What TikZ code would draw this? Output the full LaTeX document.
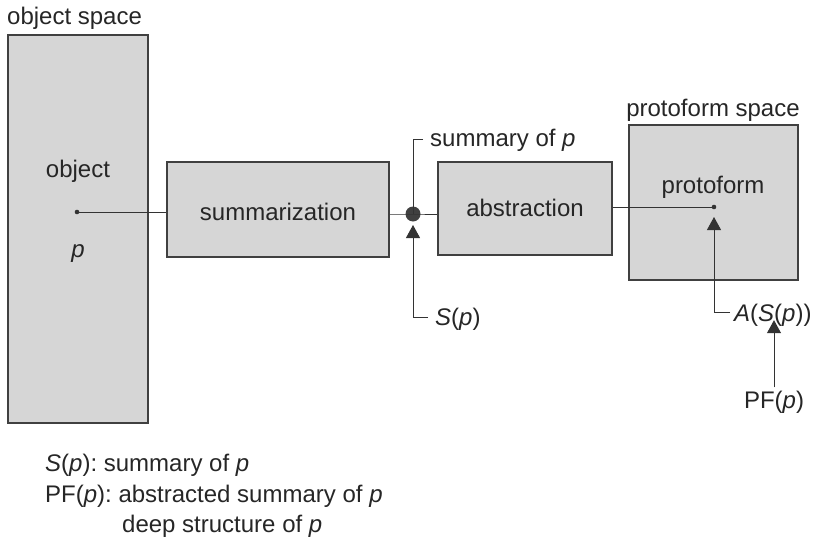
\documentclass[tikz,border=0pt]{standalone}
\usepackage{fontspec}
\setmainfont{Liberation Sans}
\usetikzlibrary{positioning, arrows.meta, calc}
\frenchspacing

\begin{document}
\begin{tikzpicture}[x=1pt, y=-1pt,
    font=\fontsize{24}{28}\selectfont,
    region/.style={draw=black!75, line width=1.2pt, fill=black!16, inner sep=0pt},
    link/.style={draw=black!80, line width=1pt},
    up/.style={link, -{Triangle[length=13pt, width=14pt]}},
    txt/.style={text=black!85, inner sep=0pt}]
    \useasboundingbox (0,0) rectangle (814,543);
    % spaces and steps
    \node[region, minimum width=140pt, minimum height=388pt] (objsp) at (78,229) {};
    \node[region, minimum width=222pt, minimum height=95pt] (summ) at (278,209.5) {};
    \node[region, minimum width=174pt, minimum height=93pt] (abst) at (525,208.5) {};
    \node[region, minimum width=169pt, minimum height=155pt] (protosp) at (713.5,202.5) {};
    % texts
    \node[txt, anchor=base west] (lobj) at (7,25) {object space};
    \node[txt, anchor=base] (lproto) at (713,116) {protoform space};
    \node[txt, anchor=base] (tobj) at (78,177) {object};
    \node[txt, anchor=base] (tp) at (78,257) {\itshape p};
    \node[txt, anchor=base] (tsumm) at (summ.center |- 0,220) {summarization};
    \node[txt, anchor=base] (tabst) at (abst.center |- 0,216) {abstraction};
    \node[txt, anchor=base] (tproto) at (713,193) {protoform};
    \node[txt, anchor=base west] (lsum) at (430,146) {summary of \itshape p};
    \node[txt, anchor=base west] (lsp) at (435,325) {\itshape S\upshape(\itshape p\upshape)};
    \node[txt, anchor=base west] (lasp) at (734,321) {\itshape A\upshape(\itshape S\upshape(\itshape p\upshape))};
    \node[txt, anchor=base] (lpf) at (774,408) {PF(\itshape p\upshape)};
    % dots
    \fill[black!80] (77,212) circle (2.3pt) coordinate (pobj);
    \fill[black!75] (413,214) circle (7.5pt) coordinate (junc);
    \fill[black!80] (714,207) circle (2.3pt) coordinate (pproto);
    % connectors
    \draw[link] (pobj) -- (pobj -| summ.west);
    \draw[link] (summ.east |- junc) -- (junc) -- (abst.west |- junc);
    \draw[link] ($(lsum.base west)+(-7,-7)$) -| (junc);
    \draw[link] (abst.east |- pproto) -- (pproto);
    \draw[up] ($(lsp.base west)+(-7,-8)$) -| ($(junc)+(0,11)$);
    \draw[up] ($(lasp.base west)+(-4,-9)$) -| ($(pproto)+(0,10)$);
    \draw[up] ($(lpf.north)+(0,-3)$) -- ($(lpf.north |- lasp.south)+(0,-6)$);
    % legend
    \node[txt, anchor=base west] (leg1) at (45,471) {\itshape S\upshape(\itshape p\upshape): summary of \itshape p};
    \node[txt, anchor=base west] (leg2) at (45,502) {PF(\itshape p\upshape): abstracted summary of \itshape p};
    \node[txt, anchor=base west] (leg3) at (122,532) {deep structure of \itshape p};
\end{tikzpicture}
\end{document}
